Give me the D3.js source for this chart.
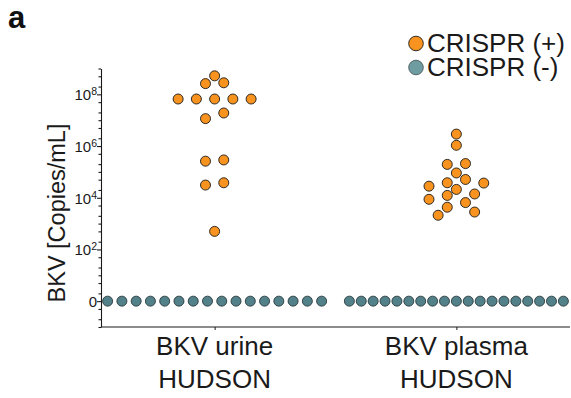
<!DOCTYPE html>
<html>
<head>
<meta charset="utf-8">
<script src="https://cdn.jsdelivr.net/npm/d3@7"></script>
<style>
  html, body { margin: 0; padding: 0; background: #fff; }
  svg { display: block; font-family: "Liberation Sans", Arial, Helvetica, sans-serif; }
</style>
</head>
<body>
<svg id="chart" width="571" height="398"></svg>
<script>
// ---- data (copies/mL) ----
const categories = ["BKV urine", "BKV plasma"];
const categorySub = ["HUDSON", "HUDSON"];
const seriesNames = ["CRISPR (+)", "CRISPR (-)"];

const urinePositive = [5.2e8, 2.8e8, 2.6e8, 6.6e7, 6.6e7, 6.6e7, 6.6e7, 6.6e7,
                       1.9e7, 1.15e7, 2.9e5, 2.6e5, 3.8e4, 3.1e4, 500];
const plasmaPositive = [2.9e6, 1.07e6, 2.1e5, 1.95e5, 9.1e4, 5.1e4, 3.8e4, 3.7e4,
                        2.8e4, 2.1e4, 1.4e4, 1.23e4, 8.7e3, 6.5e3, 4.3e3, 2.8e3, 2.1e3];
const urineNegative = [0, 0, 0, 0, 0, 0, 0, 0, 0, 0, 0, 0, 0, 0, 0, 0];
const plasmaNegative = [0, 0, 0, 0, 0, 0, 0, 0, 0, 0, 0, 0, 0, 0, 0, 0, 0, 0, 0];

const majorTicks = [1, 1e2, 1e4, 1e6, 1e8];
const majorLabels = [["0", ""], ["10", "2"], ["10", "4"], ["10", "6"], ["10", "8"]];

// ---- styles ----
const colors = { pos: "#F7931E", neg: "#52818A", negLegend: "#6E9CA1" };
const dotR = 5;

const svg = d3.select("#chart");
svg.append("rect").attr("width", 571).attr("height", 398).attr("fill", "#fff");

// log axis; the zero level is shown at the 10^0 position, labelled "0"
const y = d3.scaleLog().domain([0.1, 1e9]).range([327, 68.5]);
const yPos = v => y(v === 0 ? 1 : v);
const x = d3.scalePoint().domain(categories).range([101, 570]).padding(0.47);

// minor ticks at 1, 2, 5 of each decade
const minorTicks = [];
for (let e = -1; e <= 8; e++) {
  [1, 2, 5].forEach(m => {
    const v = m * Math.pow(10, e);
    if (!majorTicks.includes(v)) minorTicks.push(v);
  });
}
minorTicks.push(1e9);

const yMinor = svg.append("g").attr("transform", "translate(101,0)")
  .call(d3.axisLeft(y).tickValues(minorTicks).tickSize(2.5).tickSizeOuter(0).tickFormat(""));
yMinor.select(".domain").remove();

const yAxis = svg.append("g").attr("transform", "translate(101,0)")
  .call(d3.axisLeft(y).tickValues(majorTicks).tickSize(4).tickSizeOuter(0).tickFormat(""));
yAxis.selectAll(".tick text").each(function (d, i) {
  const t = d3.select(this).attr("x", -4).attr("dy", null).attr("y", 5.3)
    .attr("font-size", 15).attr("fill", "#1a1a1a").attr("text-anchor", "end");
  t.append("tspan").text(majorLabels[i][0]);
  if (majorLabels[i][1]) {
    t.append("tspan").attr("font-size", 10.5).attr("dy", -5).text(majorLabels[i][1]);
  }
});
svg.selectAll(".domain, .tick line").attr("stroke", "#1a1a1a").attr("stroke-width", 1.1);

const xAxis = svg.append("g").attr("transform", "translate(0,327)")
  .call(d3.axisBottom(x).tickSize(3).tickSizeOuter(0).tickFormat(""));
xAxis.select(".domain").attr("d", "M101,0H570").attr("stroke", "#1a1a1a").attr("stroke-width", 1.1);
xAxis.selectAll(".tick line").attr("stroke", "#1a1a1a");

// category labels
const catLabels = svg.append("g").attr("font-size", 26).attr("fill", "#1a1a1a").attr("text-anchor", "middle");
categories.forEach((c, i) => {
  catLabels.append("text").attr("x", x(c)).attr("y", 355).text(c);
  catLabels.append("text").attr("x", x(c)).attr("y", 388).text(categorySub[i]);
});

// y title
svg.append("text").attr("transform", "translate(65,213) rotate(-90)")
  .attr("text-anchor", "middle").attr("font-size", 23.5).attr("fill", "#1a1a1a")
  .text("BKV [Copies/mL]");

// panel letter
svg.append("text").attr("x", 8).attr("y", 27.5).attr("font-size", 31)
  .attr("font-weight", "bold").attr("fill", "#111").text("a");

// ---- point layouts ----
const colStep = 18.25;   // horizontal spacing between swarm columns
const minDist = 10.8;    // minimum centre distance between dots
const rowWin = 6;        // values this close vertically share a row

function swarm(values) {
  const pts = values.map(v => ({ v, y: yPos(v) })).sort((a, b) => a.y - b.y);
  const rows = [];
  pts.forEach(p => {
    const r = rows[rows.length - 1];
    if (r && p.y - r[0].y < rowWin) r.push(p); else rows.push([p]);
  });
  const placed = [];
  const free = (c, yy) => placed.every(q => Math.hypot((q.c - c) * colStep, q.y - yy) >= minDist);
  const single = p => {
    for (let k = 0; k < 40; k++) {
      const c = k === 0 ? 0 : (k % 2 ? 1 : -1) * Math.ceil(k / 2) * 0.5;
      if (free(c, p.y)) { p.c = c; placed.push(p); return; }
    }
  };
  rows.forEach(r => {
    const n = r.length;
    if (n === 1) { single(r[0]); return; }
    for (let k = 1; k <= 3; k++) {
      const cols = r.map((p, i) => ((n - 1) / 2 - i) * k);
      if (r.every((p, i) => free(cols[i], p.y))) {
        r.forEach((p, i) => { p.c = cols[i]; placed.push(p); });
        return;
      }
    }
    r.forEach(single);
  });
  return placed;
}

// zero-valued samples spread evenly along one row
const zeroRowWidth = 214;
function zeroRow(values) {
  const n = values.length;
  return values.map((v, i) => ({ v, off: (i / (n - 1) - 0.5) * zeroRowWidth }));
}

const negGroups = [urineNegative, plasmaNegative];
const posGroups = [urinePositive, plasmaPositive];

categories.forEach((c, gi) => {
  svg.append("g").selectAll("circle").data(zeroRow(negGroups[gi])).join("circle")
    .attr("cx", d => x(c) + d.off).attr("cy", d => yPos(d.v)).attr("r", dotR)
    .attr("fill", colors.neg).attr("stroke", "#2b3a3c").attr("stroke-width", 0.9);
  svg.append("g").selectAll("circle").data(swarm(posGroups[gi])).join("circle")
    .attr("cx", d => x(c) + d.c * colStep).attr("cy", d => d.y).attr("r", dotR)
    .attr("fill", colors.pos).attr("stroke", "#1a1a1a").attr("stroke-width", 0.9);
});

// ---- legend ----
const legend = svg.append("g");
const legendFill = [colors.pos, colors.negLegend];
seriesNames.forEach((s, i) => {
  const cy = 43.5 + i * 24;
  legend.append("circle").attr("cx", 416).attr("cy", cy).attr("r", 7.3)
    .attr("fill", legendFill[i]).attr("stroke", i ? "#4a5a5c" : "#1a1a1a").attr("stroke-width", 0.9);
  legend.append("text").attr("x", 427).attr("y", cy + 8.5).attr("font-size", 26)
    .attr("fill", "#1a1a1a").text(s);
});
</script>
</body>
</html>
